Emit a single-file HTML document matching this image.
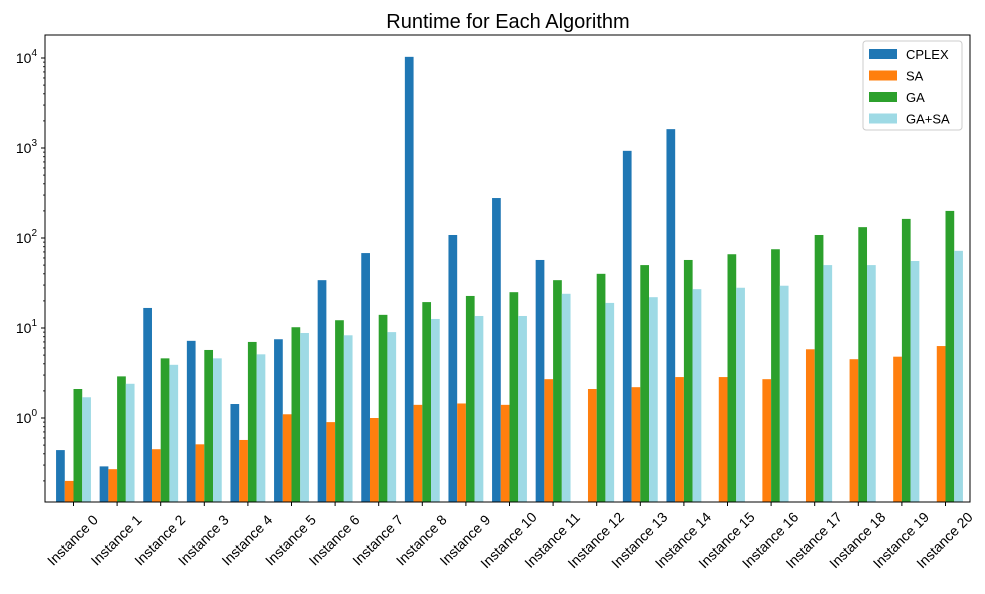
<!DOCTYPE html>
<html><head><meta charset="utf-8"><style>
body{margin:0;background:#fff;}
svg text{font-family:"Liberation Sans","DejaVu Sans",sans-serif;}
</style></head><body>
<svg id="chart" width="985" height="589" xmlns="http://www.w3.org/2000/svg">
<rect width="985" height="589" fill="#fff"/>
<text x="508" y="28" font-size="20" text-anchor="middle" fill="#000">Runtime for Each Algorithm</text>
<g id="bars"></g>
<g id="axes"></g>
<g id="legend"></g>
</svg>
<script>
const categories = ["Instance 0","Instance 1","Instance 2","Instance 3","Instance 4","Instance 5","Instance 6","Instance 7","Instance 8","Instance 9","Instance 10","Instance 11","Instance 12","Instance 13","Instance 14","Instance 15","Instance 16","Instance 17","Instance 18","Instance 19","Instance 20"];
const seriesNames = ["CPLEX","SA","GA","GA+SA"];
const cplexValues = [0.44,0.29,16.7,7.2,1.43,7.5,34,68,10300,108,278,57,null,930,1620,null,null,null,null,null,null];
const saValues = [0.2,0.27,0.45,0.51,0.57,1.1,0.9,1.0,1.4,1.45,1.4,2.7,2.1,2.2,2.85,2.85,2.7,5.8,4.5,4.8,6.3];
const gaValues = [2.1,2.9,4.6,5.7,7,10.2,12.2,14,19.4,22.7,25,34,40,50,57,66,75,108,132,163,200];
const gasaValues = [1.7,2.4,3.9,4.6,5.1,8.8,8.3,9,12.6,13.6,13.6,24,19,22,27,28,29.5,50,50,55.5,72];
const yTickExps = [0,1,2,3,4];

const colors = ["#1f77b4","#ff7f0e","#2ca02c","#9edae5"];
const allSeries = [cplexValues,saValues,gaValues,gasaValues];
const NS="http://www.w3.org/2000/svg";
const L=45,R=970,T=35,B=502;
const x0=73.5, step=43.6, barW=step*0.2;
function xScale(i){return x0+step*i;}
function yScale(v){return 418-90*Math.log10(v);}
function mk(tag,attrs,parent){const e=document.createElementNS(NS,tag);for(const k in attrs)e.setAttribute(k,attrs[k]);parent.appendChild(e);return e;}
const bars=document.getElementById('bars'), axes=document.getElementById('axes'), legend=document.getElementById('legend');
allSeries.forEach((s,si)=>{
  s.forEach((v,i)=>{
    if(v==null)return;
    const xl=xScale(i)-2*barW+si*barW;
    const yt=yScale(v);
    const r=mk('rect',{x:xl,y:yt,width:barW,height:B-yt,fill:colors[si]},bars);
    
    
  });
});
const frame=mk('rect',{x:L,y:T,width:R-L,height:B-T,fill:'none',stroke:'#000','stroke-width':1},axes);


categories.forEach((c,i)=>{
  const x=xScale(i);
  mk('line',{x1:x,y1:B,x2:x,y2:B+4,stroke:'#000'},axes);
  const cy=B+38;
  const t=mk('text',{x:x-1,y:cy,'font-size':14,'text-anchor':'middle','dominant-baseline':'central',transform:`rotate(-45 ${x-1} ${cy})`,fill:'#000'},axes);
  t.textContent=c;
  
  
});
yTickExps.forEach(e=>{
  const y=yScale(Math.pow(10,e));
  mk('line',{x1:L-4,y1:y,x2:L,y2:y,stroke:'#000'},axes);
  const t=mk('text',{x:L-8,y:y+5,'font-size':14,'text-anchor':'end',fill:'#000'},axes);
  t.innerHTML='10<tspan dy="-7" font-size="10">'+e+'</tspan>';
  
  
});
for(let e=-1;e<=4;e++){for(let m=2;m<=9;m++){const y=yScale(m*Math.pow(10,e));if(y>T&&y<B)mk('line',{x1:L-2,y1:y,x2:L,y2:y,stroke:'#000','stroke-width':0.8},axes);}}
const lb=mk('rect',{x:863,y:41,width:99,height:89,fill:'#fff',stroke:'#ccc',rx:3},legend);


seriesNames.forEach((n,i)=>{
  const y=49+i*21.5;
  mk('rect',{x:869,y:y,width:28,height:10,fill:colors[i]},legend);
  const t=mk('text',{x:906,y:y+10,'font-size':13,fill:'#000'},legend);
  t.textContent=n;
  
  
});
</script>
</body></html>
